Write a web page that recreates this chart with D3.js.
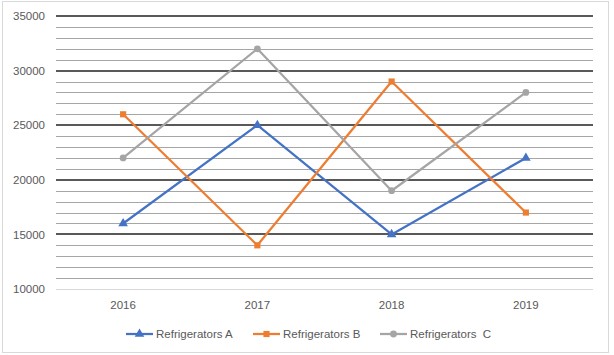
<!DOCTYPE html>
<html><head><meta charset="utf-8">
<script src="https://cdn.jsdelivr.net/npm/d3@7"></script>
<style>
html,body{margin:0;padding:0;background:#fff;}
svg{display:block;font-family:"Liberation Sans",Arial,sans-serif;}
</style></head>
<body><svg id="c" width="614" height="355"></svg>
<script>
const categories = ["2016","2017","2018","2019"];
const seriesNames = ["Refrigerators A","Refrigerators B","Refrigerators  C"];
const seriesA = [16000,25000,15000,22000];
const seriesB = [26000,14000,29000,17000];
const seriesC = [22000,32000,19000,28000];
const yTicks = [10000,15000,20000,25000,30000,35000];
const colors = ["#4472c4","#ed7d31","#a5a5a5"];
const symbols = [d3.symbolTriangle, d3.symbolSquare, d3.symbolCircle];
const symSizes = [40, 38, 36];

const svg = d3.select("#c");
svg.append("rect").attr("x",2.5).attr("y",1.5).attr("width",606).attr("height",351)
  .attr("fill","#fff").attr("stroke","#d9d9d9");

const pLeft=56, pRight=593, pTop=16, pBottom=289;
const x = d3.scaleBand().domain(categories).range([pLeft,pRight]);
const y = d3.scaleLinear().domain([10000,35000]).range([pBottom,pTop]);

// minor gridlines
const minor = d3.range(11000,35000,1000).filter(v=>v%5000!==0);
svg.append("g").selectAll("line").data(minor).join("line")
  .attr("x1",pLeft).attr("x2",pRight).attr("y1",d=>Math.round(y(d))+0.5).attr("y2",d=>Math.round(y(d))+0.5)
  .attr("stroke","#a6a6a6").attr("stroke-width",1);
// major gridlines
svg.append("g").selectAll("line").data(yTicks.filter(v=>v>10000)).join("line")
  .attr("x1",pLeft).attr("x2",pRight).attr("y1",d=>Math.round(y(d))).attr("y2",d=>Math.round(y(d)))
  .attr("stroke","#595959").attr("stroke-width",2);
// axis line
svg.append("line").attr("x1",pLeft).attr("x2",pRight).attr("y1",Math.round(y(10000))+0.5).attr("y2",Math.round(y(10000))+0.5)
  .attr("stroke","#d9d9d9").attr("stroke-width",1);

// y labels
const yAxis = d3.axisLeft(y).tickValues(yTicks).tickSize(0).tickPadding(11).tickFormat(d3.format("d"));
const ya = svg.append("g").attr("transform",`translate(${pLeft},0)`).call(yAxis);
ya.select(".domain").remove();
ya.selectAll("text").attr("fill","#595959").attr("font-size","11.5px")
  .attr("font-family","'Liberation Sans',Arial,sans-serif");

// x labels
const xAxis = d3.axisBottom(x).tickSize(0).tickPadding(12);
const xa = svg.append("g").attr("transform",`translate(0,${pBottom})`).call(xAxis);
xa.select(".domain").remove();
xa.selectAll("text").attr("fill","#595959").attr("font-size","11.5px")
  .attr("font-family","'Liberation Sans',Arial,sans-serif");

const data = [seriesA,seriesB,seriesC];
const line = d3.line().x((d,i)=>x(categories[i])+x.bandwidth()/2).y(d=>y(d));
data.forEach((s,k)=>{
  svg.append("path").datum(s).attr("d",line).attr("fill","none")
    .attr("stroke",colors[k]).attr("stroke-width",2.25).attr("stroke-linejoin","round");
  svg.append("g").selectAll("path").data(s).join("path")
    .attr("d",d3.symbol().type(symbols[k]).size(symSizes[k]))
    .attr("transform",(d,i)=>`translate(${x(categories[i])+x.bandwidth()/2},${y(d)})`)
    .attr("fill",colors[k]);
});

// legend
const legX = [126,253,380];
const legY = 334;
seriesNames.forEach((n,k)=>{
  const g = svg.append("g");
  g.append("line").attr("x1",legX[k]).attr("x2",legX[k]+27).attr("y1",legY).attr("y2",legY)
    .attr("stroke",colors[k]).attr("stroke-width",2.25);
  g.append("path").attr("d",d3.symbol().type(symbols[k]).size(symSizes[k]))
    .attr("transform",`translate(${legX[k]+13.5},${legY})`).attr("fill",colors[k]);
  g.append("text").attr("x",legX[k]+30).attr("y",legY).attr("dy","0.35em")
    .attr("fill","#595959").attr("font-size","11.5px").style("white-space","pre").text(n);
});
</script></body></html>
